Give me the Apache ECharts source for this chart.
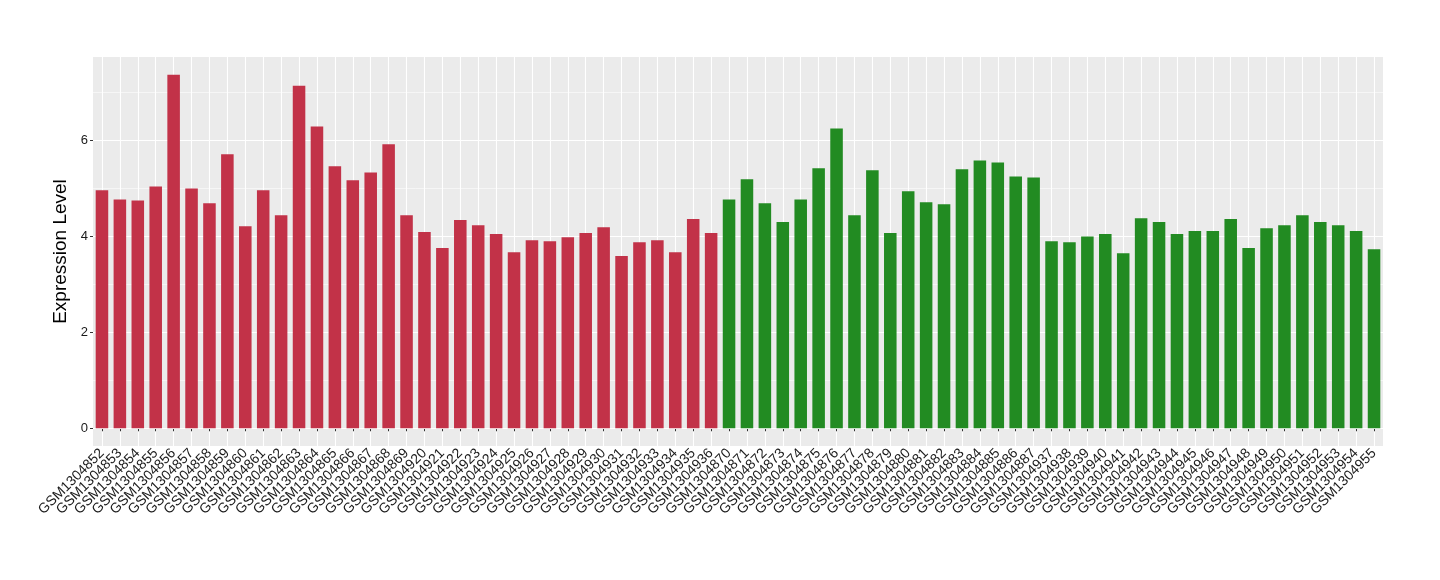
<!DOCTYPE html>
<html>
<head>
<meta charset="utf-8">
<script src="https://cdn.jsdelivr.net/npm/echarts@6/dist/echarts.min.js"></script>
<style>html,body{margin:0;padding:0;background:#fff}#c{width:1440px;height:580px}</style>
</head>
<body>
<div id="c"></div>
<script>
const redSamples = ["GSM1304852","GSM1304853","GSM1304854","GSM1304855","GSM1304856","GSM1304857","GSM1304858","GSM1304859","GSM1304860","GSM1304861","GSM1304862","GSM1304863","GSM1304864","GSM1304865","GSM1304866","GSM1304867","GSM1304868","GSM1304869","GSM1304920","GSM1304921","GSM1304922","GSM1304923","GSM1304924","GSM1304925","GSM1304926","GSM1304927","GSM1304928","GSM1304929","GSM1304930","GSM1304931","GSM1304932","GSM1304933","GSM1304934","GSM1304935","GSM1304936"];
const redValues = [4.96,4.77,4.75,5.04,7.37,5.00,4.69,5.71,4.21,4.96,4.44,7.14,6.29,5.46,5.17,5.33,5.92,4.44,4.09,3.76,4.34,4.23,4.05,3.67,3.92,3.90,3.98,4.07,4.19,3.59,3.88,3.92,3.67,4.36,4.07];
const greenSamples = ["GSM1304870","GSM1304871","GSM1304872","GSM1304873","GSM1304874","GSM1304875","GSM1304876","GSM1304877","GSM1304878","GSM1304879","GSM1304880","GSM1304881","GSM1304882","GSM1304883","GSM1304884","GSM1304885","GSM1304886","GSM1304887","GSM1304937","GSM1304938","GSM1304939","GSM1304940","GSM1304941","GSM1304942","GSM1304943","GSM1304944","GSM1304945","GSM1304946","GSM1304947","GSM1304948","GSM1304949","GSM1304950","GSM1304951","GSM1304952","GSM1304953","GSM1304954","GSM1304955"];
const greenValues = [4.77,5.19,4.69,4.30,4.77,5.42,6.25,4.44,5.38,4.07,4.94,4.71,4.67,5.40,5.58,5.54,5.25,5.23,3.90,3.88,4.00,4.05,3.65,4.38,4.30,4.05,4.11,4.11,4.36,3.76,4.17,4.23,4.44,4.30,4.23,4.11,3.73];
const yTickLabels = [0,2,4,6];
const yMajorGrid = [0,2,4,6];
const yMinorGrid = [1,3,5,7];
const yMin = -0.37, yMax = 7.74;

const categories = redSamples.concat(greenSamples);
const redData = categories.map((c,i)=> i < redSamples.length ? redValues[i] : '-');
const greenData = categories.map((c,i)=> i >= redSamples.length ? greenValues[i - redSamples.length] : '-');

const gridLines = yMajorGrid.map(v=>({yAxis:v, lineStyle:{width:1.1}}))
  .concat(yMinorGrid.map(v=>({yAxis:v, lineStyle:{width:0.55}})));

const FONT = 'Liberation Sans, Arial, sans-serif';
const chart = echarts.init(document.getElementById('c'), null, {renderer:'canvas'});
chart.setOption({
  animation:false,
  grid:{left:93, right:57, top:57, bottom:134, show:true, backgroundColor:'#EBEBEB', borderWidth:0},
  xAxis:{
    type:'category', data:categories, boundaryGap:true,
    axisLine:{show:false},
    axisTick:{show:true, alignWithLabel:true, length:3, lineStyle:{color:'#333333'}},
    splitLine:{show:true, alignWithLabel:true, interval:0, lineStyle:{color:'#FFFFFF', width:1.1}},
    axisLabel:{interval:0, rotate:45, color:'#1A1A1A', fontSize:14, fontFamily:FONT, margin:5}
  },
  yAxis:{
    type:'value', min:yMin, max:yMax,
    name:'Expression Level', nameLocation:'middle', nameGap:15,
    nameTextStyle:{fontSize:19, color:'#000', fontFamily:FONT},
    axisLine:{show:false},
    axisTick:{show:true, customValues:yTickLabels, length:3, lineStyle:{color:'#333333'}},
    axisLabel:{customValues:yTickLabels, color:'#1A1A1A', fontSize:13, fontFamily:FONT, margin:5},
    splitLine:{show:false}
  },
  series:[
    {type:'bar', data:redData, stack:'a', barWidth:'70%', itemStyle:{color:'#C23248'}, z:2,
     markLine:{silent:true, symbol:'none', z:1, label:{show:false}, lineStyle:{color:'#FFFFFF', type:'solid'}, data:gridLines}},
    {type:'bar', data:greenData, stack:'a', barWidth:'70%', itemStyle:{color:'#228B22'}, z:2}
  ]
});
</script>
</body>
</html>
